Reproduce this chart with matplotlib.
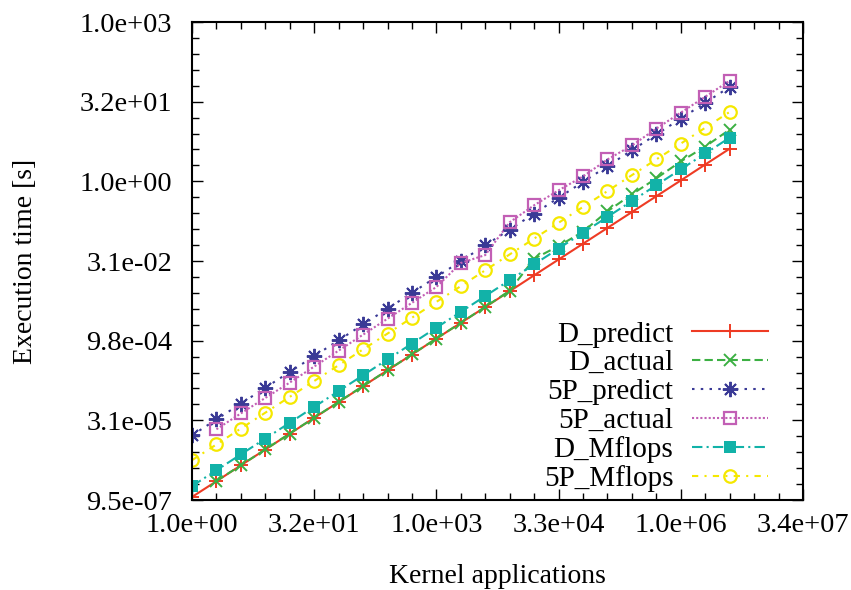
import numpy as np
import matplotlib
matplotlib.use("Agg")
import matplotlib.pyplot as plt
from matplotlib.ticker import FixedLocator, FuncFormatter, NullFormatter

plt.rcParams['font.family'] = ['Liberation Serif', 'DejaVu Serif']

nan = np.nan

# Number of kernel applications (x)
kernel_apps = [1, 2, 4, 8, 16, 32, 64, 128, 256, 512, 1024, 2048, 4096, 8192,
               16384, 32768, 65536, 131072, 262144, 524288, 1048576, 2097152, 4194304]

# Execution time [s] per series
d_predict = [1.09e-6, 2.16e-6, 4.31e-6, 8.58e-6, 1.71e-5, 3.40e-5, 6.77e-5, 1.35e-4,
             2.69e-4, 5.35e-4, 1.07e-3, 2.12e-3, 4.22e-3, 8.41e-3, 1.68e-2, 3.34e-2,
             6.64e-2, 0.132, 0.263, 0.524, 1.04, 2.08, 4.14]
d_actual = [nan, 2.18e-6, 4.33e-6, 8.60e-6, 1.72e-5, 3.42e-5, 6.80e-5, 1.36e-4,
            2.70e-4, 5.37e-4, 1.07e-3, 2.13e-3, 4.25e-3, 8.60e-3, 3.45e-2, 6.00e-2,
            0.112, 0.272, 0.569, 1.14, 2.38, 4.55, 9.50]
p5_predict = [1.59e-5, 3.17e-5, 6.32e-5, 1.26e-4, 2.51e-4, 4.99e-4, 9.94e-4, 1.98e-3,
              3.94e-3, 7.85e-3, 1.56e-2, 3.11e-2, 6.20e-2, 0.123, 0.246, 0.490,
              0.975, 1.94, 3.87, 7.70, 15.3, 30.5, 60.8]
p5_actual = [nan, 2.07e-5, 4.13e-5, 8.10e-5, 1.58e-4, 3.17e-4, 6.34e-4, 1.27e-3,
             2.54e-3, 5.07e-3, 1.01e-2, 2.87e-2, 4.05e-2, 0.169, 0.354, 0.677,
             1.24, 2.59, 4.76, 9.93, 19.9, 39.7, 79.5]
d_mflops = [1.75e-6, 3.48e-6, 6.94e-6, 1.38e-5, 2.75e-5, 5.48e-5, 1.09e-4, 2.17e-4,
            4.33e-4, 8.62e-4, 1.72e-3, 3.42e-3, 6.81e-3, 1.36e-2, 2.70e-2, 5.38e-2,
            0.107, 0.213, 0.425, 0.846, 1.69, 3.36, 6.68]
p5_mflops = [5.39e-6, 1.07e-5, 2.14e-5, 4.26e-5, 8.48e-5, 1.69e-4, 3.36e-4, 6.69e-4,
             1.33e-3, 2.65e-3, 5.28e-3, 1.05e-2, 2.09e-2, 4.17e-2, 8.30e-2, 0.165,
             0.329, 0.655, 1.31, 2.60, 5.17, 10.3, 20.5]

labels = ['D_predict', 'D_actual', '5P_predict', '5P_actual', 'D_Mflops', '5P_Mflops']

# Axis ticks (powers of two, every 5th labelled)
xticks = [1, 32, 1024, 32768, 1048576, 33554432]
yticks = [2.0 ** -20, 2.0 ** -15, 2.0 ** -10, 2.0 ** -5, 1.0, 32.0, 1024.0]

fig = plt.figure(figsize=(8.51, 5.9), dpi=100)
ax = fig.add_axes([0.2256, 0.1525, 0.7180, 0.8102])

series = [d_predict, d_actual, p5_predict, p5_actual, d_mflops, p5_mflops]
styles = [
    dict(color='#ee3b24', ls='-', marker='+', ms=10, mew=1.4),
    dict(color='#3cb043', ls=(0, (4, 2)), marker='x', ms=8, mew=1.4),
    dict(color='#3a3a96', ls=(0, (1.2, 3)), marker=(8, 2, 0), ms=11, mew=1.4),
    dict(color='#c25fb5', ls=(0, (1, 1)), marker='s', ms=9, mew=1.6, mfc='none'),
    dict(color='#12b2a8', ls=(0, (5, 2, 1, 2)), marker='s', ms=8, mew=0),
    dict(color='#f5e800', ls=(0, (3, 3, 1, 3)), marker='o', ms=9, mew=1.6, mfc='none'),
]

for vals, lab, st in zip(series, labels, styles):
    ax.plot(kernel_apps, vals, label=lab, lw=1.5, **st)

ax.set_xscale('log', base=2)
ax.set_yscale('log', base=2)
ax.set_xlim(1, 2 ** 25)
ax.set_ylim(2.0 ** -20, 2.0 ** 10)

fmt = FuncFormatter(lambda v, pos: '%.1e' % v)
ax.xaxis.set_major_locator(FixedLocator(xticks))
ax.yaxis.set_major_locator(FixedLocator(yticks))
ax.xaxis.set_major_formatter(fmt)
ax.yaxis.set_major_formatter(fmt)
ax.xaxis.set_minor_locator(FixedLocator([2.0 ** k for k in range(26)]))
ax.yaxis.set_minor_locator(FixedLocator([2.0 ** k for k in range(-20, 11)]))
ax.xaxis.set_minor_formatter(NullFormatter())
ax.yaxis.set_minor_formatter(NullFormatter())

ax.tick_params(which='both', direction='in', top=True, right=True, labelsize=20.5)
ax.tick_params(which='major', length=8, width=1)
ax.tick_params(which='minor', length=5, width=1)
ax.tick_params(axis='x', pad=9)
ax.tick_params(axis='y', pad=14)
for sp in ax.spines.values():
    sp.set_linewidth(1.5)

ax.set_xlabel('Kernel applications', fontsize=20, labelpad=19)
ax.set_ylabel('Execution time [s]', fontsize=20, labelpad=30)

ax.legend(loc='lower right', bbox_to_anchor=(0.943, 0.016), frameon=False,
          fontsize=21, markerfirst=False, handlelength=2.6, handletextpad=0.65,
          labelspacing=0.08, borderaxespad=0, borderpad=0)

fig.savefig('out.png', dpi=100)
